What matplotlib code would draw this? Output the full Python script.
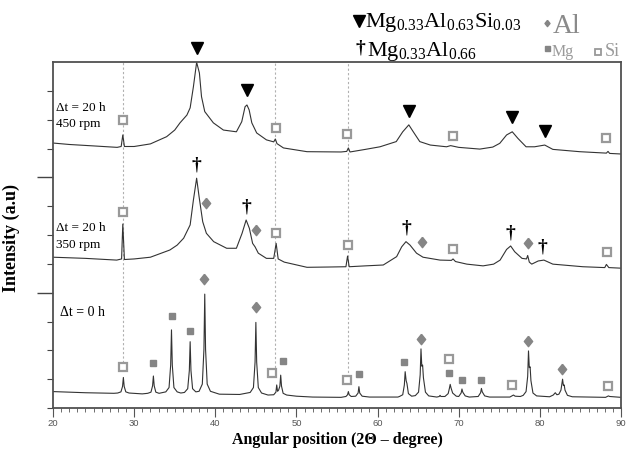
import numpy as np
import matplotlib
matplotlib.use("Agg")
import matplotlib.pyplot as plt
from matplotlib.ticker import FixedLocator, MultipleLocator

plt.rcParams['font.family'] = ['Liberation Serif', 'DejaVu Serif']
plt.rcParams['mathtext.fontset'] = 'custom'
plt.rcParams['mathtext.rm'] = 'Liberation Serif'
plt.rcParams['mathtext.it'] = 'Liberation Serif:italic'
plt.rcParams['mathtext.bf'] = 'Liberation Serif:bold'

# patterns: (2theta, stacked intensity in a.u.)
p450 = [(20.0, 9.19), (22, 9.14), (25, 9.09), (27.9, 9.04), (28.4, 9.07), (28.6, 9.47), (28.8, 9.07),
        (30, 9.07), (32, 9.16), (34, 9.41), (35.0, 9.64), (35.65, 9.89), (36.5, 10.16), (36.9, 10.41),
        (37.3, 11.14), (37.7, 11.99), (38.04, 11.62), (38.3, 10.80), (38.7, 10.28), (39.76, 9.89),
        (41, 9.64), (42.6, 9.58), (43.26, 9.93), (43.67, 10.45), (43.9, 10.51), (44.17, 10.34),
        (44.5, 9.89), (45.1, 9.54), (46.3, 9.30), (47.2, 9.23), (47.4, 9.33), (47.6, 9.17), (48.4, 9.02),
        (51.3, 8.89), (55.5, 8.88), (56.2, 8.90), (56.4, 9.02), (56.6, 8.88), (58.5, 8.97), (60.3, 9.06),
        (62.3, 9.24), (63.1, 9.58), (63.85, 9.82), (64.4, 9.58), (65.2, 9.24), (66.5, 9.12), (68.5, 9.06),
        (69.0, 9.10), (70, 9.04), (72.6, 8.98), (74.2, 9.05), (75.06, 9.18), (75.9, 9.47), (76.6, 9.58),
        (77.3, 9.35), (78.3, 9.06), (79.35, 9.06), (80.6, 9.12), (81.6, 8.97), (84.9, 8.89), (88.2, 8.84),
        (88.4, 8.90), (88.6, 8.83), (90, 8.81)]

p350 = [(20, 5.23), (24, 5.19), (27.85, 5.13), (28.45, 5.17), (28.6, 6.38), (28.8, 5.15), (30, 5.17),
        (32, 5.23), (34.4, 5.48), (35.3, 5.65), (36.1, 5.89), (36.9, 6.35), (37.3, 7.21), (37.7, 7.97),
        (38.0, 7.33), (38.45, 6.46), (38.9, 6.06), (39.8, 5.77), (41.4, 5.54), (42.6, 5.54), (43.3, 6.06),
        (43.8, 6.52), (44.2, 6.23), (44.6, 5.71), (44.9, 5.59), (45.3, 5.37), (46.3, 5.19), (47.2, 5.19),
        (47.5, 5.71), (47.75, 5.17), (48.5, 5.06), (51.3, 4.88), (54, 4.89), (56.1, 4.90), (56.3, 5.27),
        (56.5, 4.90), (58.5, 4.93), (60.7, 4.96), (62.35, 5.25), (62.97, 5.59), (63.5, 5.77), (64.0, 5.65),
        (64.8, 5.37), (65.6, 5.23), (67.7, 5.13), (69.1, 5.12), (69.3, 5.17), (69.6, 5.08), (71, 4.99),
        (73, 4.93), (74.3, 4.99), (75.1, 5.13), (75.9, 5.50), (76.4, 5.62), (76.9, 5.42), (77.8, 5.19),
        (78.35, 5.17), (78.5, 5.29), (78.7, 5.06), (79.0, 4.99), (79.8, 5.10), (80.5, 5.13), (81.6, 4.99),
        (85.3, 4.90), (88.0, 4.87), (88.2, 4.98), (88.5, 4.87), (90, 4.85)]

p0 = [(20, 0.57), (24, 0.53), (27.5, 0.51),
      (27.97, 0.52), (28.37, 0.56), (28.57, 0.75), (28.67, 1.06), (28.77, 0.75), (28.97, 0.56), (29.37, 0.52),
      (31, 0.49),
      (31.67, 0.51), (32.07, 0.55), (32.27, 0.77), (32.37, 1.11), (32.47, 0.77), (32.67, 0.55), (33.07, 0.51),
      (33.9, 0.56), (34.3, 0.71), (34.5, 1.49), (34.6, 2.71), (34.7, 1.49), (34.9, 0.71), (35.3, 0.56),
      (35.75, 0.52),
      (36.2, 0.54), (36.6, 0.67), (36.8, 1.30), (36.9, 2.30), (37.0, 1.30), (37.2, 0.67), (37.6, 0.56),
      (38.0, 0.58), (38.4, 0.83), (38.6, 2.04), (38.7, 3.95), (38.8, 2.04), (39.0, 0.83), (39.4, 0.58),
      (40.5, 0.48), (43, 0.47),
      (44.3, 0.54), (44.7, 0.71), (44.9, 1.59), (45.0, 2.97), (45.1, 1.59), (45.3, 0.71), (45.7, 0.52),
      (46.5, 0.45),
      (47.2, 0.46), (47.47, 0.55), (47.57, 0.80), (47.67, 0.58), (47.8, 0.62), (47.96, 0.76), (48.06, 1.14),
      (48.16, 0.76), (48.36, 0.51), (48.8, 0.45),
      (50, 0.41), (52, 0.38), (55.5, 0.37),
      (56.1, 0.40), (56.3, 0.46), (56.4, 0.57), (56.5, 0.46), (56.75, 0.40),
      (57.3, 0.41), (57.6, 0.52), (57.7, 0.74), (57.8, 0.52), (58.1, 0.41),
      (59, 0.38), (62.5, 0.38),
      (62.7, 0.40), (63.1, 0.46), (63.3, 0.80), (63.4, 1.26), (63.52, 0.95), (63.62, 0.85), (63.8, 0.50), (64.2, 0.41),
      (64.65, 0.43), (65.05, 0.55), (65.25, 1.15), (65.35, 2.05), (65.45, 1.45), (65.55, 1.49), (65.65, 1.05),
      (65.9, 0.55), (66.3, 0.42),
      (67.3, 0.38), (67.6, 0.40), (67.7, 0.44), (67.8, 0.40),
      (68.3, 0.40), (68.7, 0.50), (68.85, 0.68), (68.95, 0.82), (69.05, 0.70), (69.25, 0.52), (69.7, 0.41),
      (70.0, 0.40), (70.3, 0.52), (70.4, 0.66), (70.5, 0.55), (70.8, 0.42), (71.3, 0.38),
      (72.4, 0.40), (72.7, 0.53), (72.8, 0.68), (72.9, 0.56), (73.2, 0.42), (73.8, 0.38),
      (76.3, 0.38), (76.55, 0.42), (76.75, 0.45), (76.95, 0.41),
      (77.6, 0.40),
      (77.95, 0.44), (78.3, 0.57), (78.5, 1.10), (78.6, 1.98), (78.7, 1.40), (78.8, 1.43), (78.9, 0.95),
      (79.15, 0.52), (79.6, 0.42),
      (81.2, 0.39), (81.65, 0.45), (81.9, 0.53), (82.1, 0.46), (82.35, 0.48),
      (82.6, 0.62), (82.7, 0.82), (82.8, 1.00), (82.9, 0.78), (83.0, 0.80), (83.1, 0.62), (83.4, 0.44), (84, 0.39),
      (88.1, 0.37), (88.3, 0.40), (88.45, 0.42), (88.6, 0.40), (90, 0.37)]

# phase markers
tri_x = [37.71, 43.87, 63.84, 76.61, 80.6]
tri_y = [12.48, 11.03, 10.30, 10.10, 9.61]
dag_x = [37.62, 43.79, 63.59, 76.41, 80.35]
dag_y = [8.43, 6.96, 6.23, 6.06, 5.59]
al_x = [38.86, 45.02, 65.44, 78.5, 38.65, 45.02, 65.35, 78.58, 82.69]
al_y = [7.10, 6.17, 5.77, 5.73, 4.46, 3.51, 2.38, 2.32, 1.36]
mg_x = [32.36, 34.70, 36.88, 48.31, 57.75, 63.3, 68.84, 70.37, 72.71]
mg_y = [1.55, 3.20, 2.67, 1.64, 1.17, 1.61, 1.20, 0.97, 0.97]
si_x = [28.59, 47.45, 56.27, 69.3, 88.19,
        28.59, 47.48, 56.32, 69.26, 88.24,
        28.66, 46.95, 56.2, 68.84, 76.61, 88.44]
si_y = [9.99, 9.70, 9.49, 9.43, 9.35,
        6.81, 6.08, 5.65, 5.50, 5.42,
        1.43, 1.20, 0.97, 1.70, 0.80, 0.76]
guide_x = [28.63, 47.36, 56.38]
guide_bottom = [1.42, 1.25, 1.09]

gray = '#858585'
diamond = [(0, 1), (0.8, 0), (0, -1), (-0.8, 0), (0, 1)]

fig = plt.figure(figsize=(6.26, 4.5), dpi=100)
ax = fig.add_axes([0.0847, 0.0933, 0.9073, 0.7689])

ax.vlines(guide_x, guide_bottom, 12, colors='#b0b0b0', linestyles=(0, (2, 2)), lw=0.8, zorder=1)

for p in (p450, p350, p0):
    x, y = np.array(p).T
    ax.plot(x, y, color='#333333', lw=0.8, zorder=2)

ax.plot(tri_x, tri_y, 'v', color='black', ms=9, clip_on=False, zorder=4)
for x, y in zip(dag_x, dag_y):
    ax.text(x, y, '†', ha='center', va='center', fontsize=14, fontweight='bold', zorder=4)
ax.plot(al_x, al_y, ls='none', marker=diamond, color=gray, ms=7.5, zorder=4)
ax.plot(mg_x, mg_y, 's', color=gray, ms=5, zorder=4)
ax.plot(si_x, si_y, 's', mfc='white', mec='#999999', mew=1.6, ms=5.5, zorder=4)

ax.set_xlim(20, 90)
ax.set_ylim(0, 12)
ax.xaxis.set_major_locator(MultipleLocator(10))
ax.xaxis.set_minor_locator(MultipleLocator(1))
ax.yaxis.set_major_locator(FixedLocator([4, 8]))
ax.yaxis.set_minor_locator(FixedLocator([0, 1, 2, 3, 5, 6, 7, 9, 10, 11]))
ax.set_yticklabels([])
ax.tick_params(axis='y', which='major', length=11.5, width=1, color='#444444')
ax.tick_params(axis='y', which='minor', length=4.3, width=0.8, color='#444444')
ax.tick_params(axis='x', which='major', length=6.5, width=0.8, color='#555555', pad=1.5,
               labelsize=6.8, labelcolor='#555555')
ax.tick_params(axis='x', which='minor', length=3.2, width=0.6, color='#555555')
for lab in ax.get_xticklabels():
    lab.set_family('Liberation Sans')
for s in ax.spines.values():
    s.set_color('#505050')
    s.set_linewidth(1.3)

ax.set_xlabel('Angular position (2Θ – degree)', fontsize=11.5, fontweight='bold', labelpad=3)
ax.set_ylabel('Intensity (a.u)', fontsize=13, fontweight='bold')
ax.yaxis.set_label_coords(-0.058, 0.49)

# sample labels
ax.text(0.006, 0.858, 'Δt = 20 h', transform=ax.transAxes, fontsize=9.5)
ax.text(0.006, 0.812, '450 rpm', transform=ax.transAxes, fontsize=9.5)
ax.text(0.006, 0.512, 'Δt = 20 h', transform=ax.transAxes, fontsize=9.5)
ax.text(0.006, 0.462, '350 rpm', transform=ax.transAxes, fontsize=9.5)
ax.text(0.012, 0.265, 'Δt = 0 h', transform=ax.transAxes, fontsize=10)

# legend above the frame
W, H = 626, 450
def fx(px):
    return px / W
def fy(py):
    return 1 - py / H

tf = fig.transFigure
ax.plot([fx(359.3)], [fy(21)], 'v', color='black', ms=8, transform=tf, clip_on=False)
fig.text(fx(365), fy(26.7), r'Mg$_{0.33}$Al$_{0.63}$Si$_{0.03}$', fontsize=16)
ax.plot([fx(546.7)], [fy(22.7)], ls='none', marker=diamond, color=gray, ms=4.5, transform=tf, clip_on=False)
fig.text(fx(553), fy(33), 'Al', fontsize=20, color='#8a8a8a')
fig.text(fx(360), fy(48), '†', fontsize=14, fontweight='bold', ha='center', va='center')
fig.text(fx(366.7), fy(56), r'Mg$_{0.33}$Al$_{0.66}$', fontsize=16)
ax.plot([fx(546.7)], [fy(48.3)], 's', color=gray, ms=3.6, transform=tf, clip_on=False)
fig.text(fx(551.7), fy(56), 'Mg', fontsize=11.5, color='#9a9a9a')
ax.plot([fx(598.3)], [fy(51.7)], 's', mfc='white', mec='#999999', mew=1.3, ms=4.3, transform=tf, clip_on=False)
fig.text(fx(605), fy(56), 'Si', fontsize=13, color='#9a9a9a')

fig.savefig('out.png', dpi=100)
